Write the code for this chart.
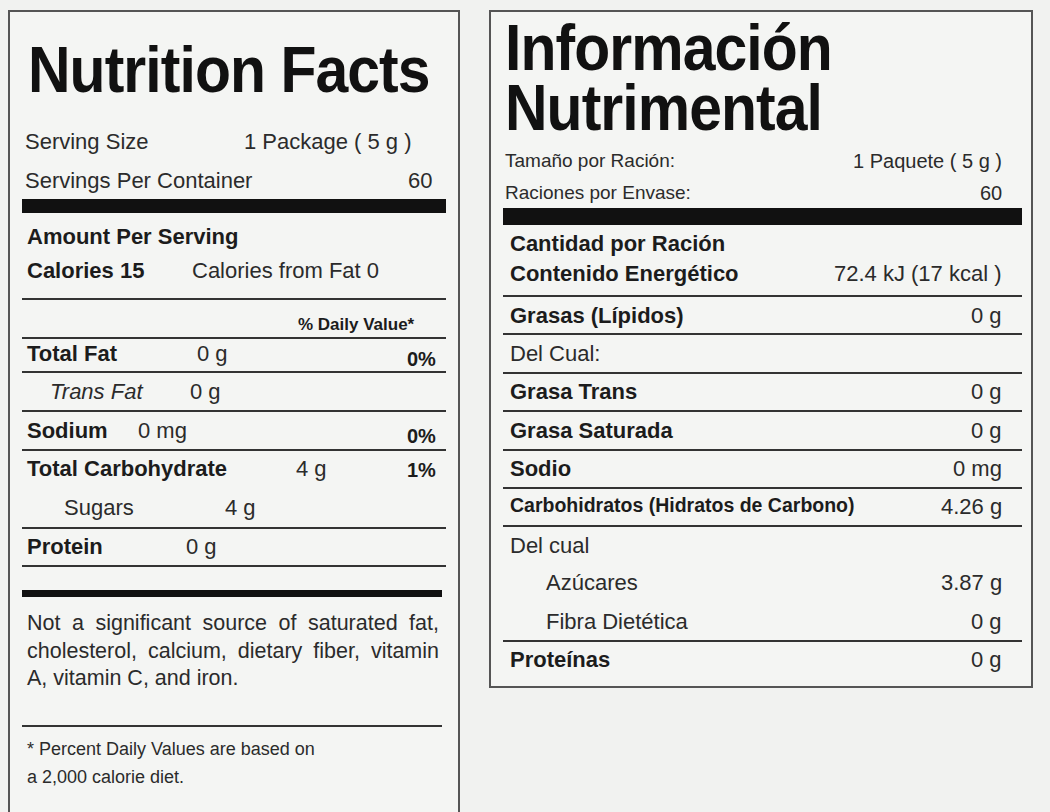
<!DOCTYPE html>
<html>
<head>
<meta charset="utf-8">
<script src="https://cdn.jsdelivr.net/npm/chart.js@4"></script>
<style>
body{margin:0;width:1050px;height:812px;background:#f1f2f0;font-family:"Liberation Sans",Arial,sans-serif;color:#2b2b2b;overflow:hidden;position:relative}
.panel{position:absolute;border:2px solid #555;background:#f4f5f3}
.t{position:absolute;font-size:22px;white-space:nowrap;line-height:1}
.b{font-weight:bold;color:#1c1c1c}
.title{position:absolute;font-weight:bold;font-size:64px;color:#111;transform:scaleX(0.92);transform-origin:left top;white-space:nowrap;line-height:1;letter-spacing:-1px}
.rule{position:absolute;background:#333;height:1.5px}
.thick{position:absolute;background:#111}
.note{position:absolute;left:27px;width:412px;font-size:21.5px;line-height:27.5px;text-align:justify;text-align-last:left}
</style>
</head>
<body>
<div class="panel" id="left" style="left:8px;top:10px;width:448px;height:820px"></div>
<div class="panel" id="right" style="left:489px;top:10px;width:540px;height:674px"></div>
<script>
// ========================================
// DATOS DE LAS ETIQUETAS
// ========================================
const leftLabels = ['Serving Size', 'Servings Per Container', 'Amount Per Serving', 'Calories 15', '% Daily Value*',
  'Total Fat', 'Trans Fat', 'Sodium', 'Total Carbohydrate', 'Sugars', 'Protein'];
const leftAmounts = ['1 Package ( 5 g )', '60', '', 'Calories from Fat   0', '', '0 g', '0 g', '0 mg', '4 g', '4 g', '0 g'];
const leftPercents = ['', '', '', '', '', '0%', '', '0%', '1%', '', ''];
const leftNote = 'Not a significant source of saturated fat, cholesterol, calcium, dietary fiber, vitamin A, vitamin C, and iron.';
const leftFoot = ['* Percent Daily Values are based  on', 'a 2,000 calorie diet.'];

const rightLabels = ['Tamaño por Ración:', 'Raciones por Envase:', 'Cantidad por Ración', 'Contenido Energético',
  'Grasas (Lípidos)', 'Del Cual:', 'Grasa Trans', 'Grasa Saturada', 'Sodio', 'Carbohidratos (Hidratos de Carbono)',
  'Del cual', 'Azúcares', 'Fibra Dietética', 'Proteínas'];
const rightValues = ['1 Paquete  ( 5 g )', '60', '', '72.4 kJ (17 kcal )', '0 g', '', '0 g', '0 g', '0 mg', '4.26 g',
  '', '3.87 g', '0 g', '0 g'];

// ========================================
// FUNCIONES AUXILIARES
// ========================================
function addText(txt, x, y, cls, extra) {
    const el = document.createElement('div');
    el.className = 't ' + (cls || '');
    el.textContent = txt;
    el.style.left = x + 'px';
    el.style.top = y + 'px';
    if (extra) Object.assign(el.style, extra);
    document.body.appendChild(el);
    return el;
}
function addRight(txt, xr, y, cls, extra) {
    const el = addText(txt, 0, y, cls, extra);
    el.style.left = (xr - el.offsetWidth) + 'px';
}
function addBox(cls, x, y, w, h) {
    const el = document.createElement('div');
    el.className = cls;
    Object.assign(el.style, {left: x + 'px', top: y + 'px', width: w + 'px'});
    if (h) el.style.height = h + 'px';
    document.body.appendChild(el);
}
function addTitle(txt, x, y) {
    const el = document.createElement('div');
    el.className = 'title';
    el.textContent = txt;
    el.style.left = x + 'px';
    el.style.top = y + 'px';
    document.body.appendChild(el);
}

// ========================================
// PANEL IZQUIERDO
// ========================================
addTitle('Nutrition Facts', 28, 38);
const leftY = [131, 170, 226, 260, 313, 343, 381, 420, 458, 497, 536];
const leftBold = [false, false, true, true, true, true, false, true, true, false, true];
const leftX = [25, 25, 27, 27, 298, 27, 50, 27, 27, 64, 27];
const leftAmtX = [244, 408, 0, 192, 0, 197, 190, 138, 296, 225, 186];
leftLabels.forEach((lab, i) => {
    const extra = {};
    if (i === 4) extra.fontSize = '17px';
    if (i === 6) extra.fontStyle = 'italic';
    addText(lab, leftX[i], leftY[i] + (i === 4 ? 3 : 0), leftBold[i] ? 'b' : '', extra);
    if (leftAmounts[i]) addText(leftAmounts[i], leftAmtX[i], leftY[i]);
    if (leftPercents[i]) addRight(leftPercents[i], 436, leftY[i] + (i === 8 ? 2 : 6), 'b', {fontSize: '20px'});
});
addBox('thick', 22, 199, 424, 14);
[298, 337, 371, 410, 449, 527, 565].forEach(y => addBox('rule', 22, y, 424));
addBox('thick', 22, 590, 420, 7);
const note = document.createElement('div');
note.className = 'note';
note.style.top = '610px';
note.textContent = leftNote;
document.body.appendChild(note);
addBox('rule', 22, 725, 420);
leftFoot.forEach((s, i) => addText(s, 27, 740 + i * 28, '', {fontSize: '18px'}));

// ========================================
// PANEL DERECHO
// ========================================
addTitle('Información', 505, 16);
addTitle('Nutrimental', 505, 76);
const rightY = [151, 183, 233, 263, 305, 343, 381, 420, 458, 496, 535, 572, 611, 649];
const rightBold = [false, false, true, true, true, false, true, true, true, true, false, false, false, true];
const rightX = [505, 505, 510, 510, 510, 510, 510, 510, 510, 510, 510, 546, 546, 510];
rightLabels.forEach((lab, i) => {
    const extra = {};
    if (i < 2) extra.fontSize = '19px';
    if (i === 9) extra.fontSize = '19.5px';
    addText(lab, rightX[i], rightY[i], rightBold[i] ? 'b' : '', extra);
    if (rightValues[i]) addRight(rightValues[i], 1002, rightY[i], '', i < 2 ? {fontSize: '20px'} : {});
});
addBox('thick', 503, 208, 519, 17);
[295, 333, 372, 410, 449, 487, 525, 640].forEach(y => addBox('rule', 503, y, 519));
</script>
</body>
</html>
